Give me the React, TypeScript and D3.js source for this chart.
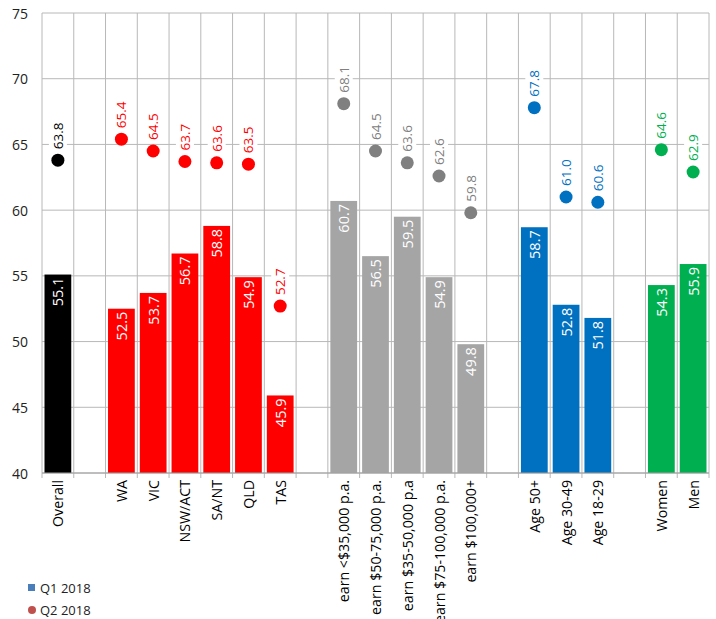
import React, { useEffect, useRef } from "react";
import * as d3 from "d3";

// Category slots along the x axis; empty strings are spacer slots between groups.
const categories = [
  "Overall", "",
  "WA", "VIC", "NSW/ACT", "SA/NT", "QLD", "TAS", "",
  "earn <$35,000 p.a.", "earn $50-75,000 p.a.", "earn $35-50,000 p.a", "earn $75-100,000 p.a.", "earn $100,000+", "",
  "Age 50+", "Age 30-49", "Age 18-29", "",
  "Women", "Men",
];

// Q1 2018 values (bars), null in spacer slots
const q1Values: (number | null)[] = [
  55.1, null,
  52.5, 53.7, 56.7, 58.8, 54.9, 45.9, null,
  60.7, 56.5, 59.5, 54.9, 49.8, null,
  58.7, 52.8, 51.8, null,
  54.3, 55.9,
];

// Q2 2018 values (dots)
const q2Values: (number | null)[] = [
  63.8, null,
  65.4, 64.5, 63.7, 63.6, 63.5, 52.7, null,
  68.1, 64.5, 63.6, 62.6, 59.8, null,
  67.8, 61.0, 60.6, null,
  64.6, 62.9,
];

// Group of each slot, used for colouring
const groups = [
  "overall", "",
  "state", "state", "state", "state", "state", "state", "",
  "income", "income", "income", "income", "income", "",
  "age", "age", "age", "",
  "gender", "gender",
];

const barColors: Record<string, string> = {
  overall: "#000000",
  state: "#ff0000",
  income: "#a5a5a5",
  age: "#0070c0",
  gender: "#00b050",
};
const dotColors: Record<string, string> = {
  overall: "#000000",
  state: "#ff0000",
  income: "#808080",
  age: "#0070c0",
  gender: "#00b050",
};

const yTicks = [40, 45, 50, 55, 60, 65, 70, 75];
const legendItems = ["Q1 2018", "Q2 2018"];

const W = 716;
const H = 619;
const FONT = "'Open Sans', sans-serif";

export default function App() {
  const ref = useRef<SVGSVGElement>(null);

  useEffect(() => {
    const svg = d3.select(ref.current);
    svg.selectAll("*").remove();

    const left = 42;
    const right = 709;
    const top = 13;
    const bottom = 473;

    const slots = categories.map((_, i) => String(i));
    const x = d3.scaleBand<string>().domain(slots).range([left, right]).padding(0);
    const y = d3.scaleLinear().domain([40, 75]).range([bottom, top]);
    const bw = x.bandwidth();
    const inset = 2.5;

    const grid = svg.append("g");
    // horizontal gridlines
    grid
      .selectAll("line.h")
      .data(yTicks)
      .join("line")
      .attr("x1", left)
      .attr("x2", right)
      .attr("y1", (d) => y(d))
      .attr("y2", (d) => y(d))
      .attr("stroke", "#b8b8b8")
      .attr("stroke-width", 1);
    // vertical gridlines at slot boundaries
    const bounds = d3.range(categories.length + 1).map((i) => left + i * bw);
    grid
      .selectAll("line.v")
      .data(bounds)
      .join("line")
      .attr("x1", (d) => d)
      .attr("x2", (d) => d)
      .attr("y1", top)
      .attr("y2", bottom + 5)
      .attr("stroke", "#b8b8b8")
      .attr("stroke-width", 1);

    // y tick labels
    svg
      .append("g")
      .selectAll("text")
      .data(yTicks)
      .join("text")
      .attr("x", 28)
      .attr("y", (d) => y(d))
      .attr("text-anchor", "end")
      .attr("dominant-baseline", "central")
      .attr("font-family", FONT)
      .attr("font-size", 14)
      .attr("fill", "#222")
      .text((d) => d);

    // bars
    const barData = categories
      .map((c, i) => ({ c, i, v: q1Values[i], g: groups[i] }))
      .filter((d) => d.v !== null) as { c: string; i: number; v: number; g: string }[];

    svg
      .append("g")
      .selectAll("rect")
      .data(barData)
      .join("rect")
      .attr("x", (d) => (x(String(d.i)) as number) + inset)
      .attr("width", bw - 2 * inset)
      .attr("y", (d) => y(d.v))
      .attr("height", (d) => bottom - y(d.v))
      .attr("fill", (d) => barColors[d.g]);

    // bar value labels (inside end)
    svg
      .append("g")
      .selectAll("text")
      .data(barData)
      .join("text")
      .attr("transform", (d) => {
        const cx = (x(String(d.i)) as number) + bw / 2;
        return `translate(${cx},${y(d.v) + 3}) rotate(-90)`;
      })
      .attr("text-anchor", "end")
      .attr("dominant-baseline", "central")
      .attr("font-family", FONT)
      .attr("font-size", 14.5)
      .attr("fill", "#ffffff")
      .text((d) => d.v.toFixed(1));

    // x axis line
    svg
      .append("line")
      .attr("x1", left)
      .attr("x2", right)
      .attr("y1", bottom)
      .attr("y2", bottom)
      .attr("stroke", "#a0a0a0")
      .attr("stroke-width", 1);

    // dots
    const dotData = categories
      .map((c, i) => ({ c, i, v: q2Values[i], g: groups[i] }))
      .filter((d) => d.v !== null) as { c: string; i: number; v: number; g: string }[];

    svg
      .append("g")
      .selectAll("circle")
      .data(dotData)
      .join("circle")
      .attr("cx", (d) => (x(String(d.i)) as number) + bw / 2)
      .attr("cy", (d) => y(d.v))
      .attr("r", 6.5)
      .attr("fill", (d) => dotColors[d.g]);

    // dot value labels with white backing
    const dl = svg
      .append("g")
      .selectAll("g")
      .data(dotData)
      .join("g")
      .attr("transform", (d) => {
        const cx = (x(String(d.i)) as number) + bw / 2;
        return `translate(${cx},${y(d.v) - 11}) rotate(-90)`;
      });
    const dlText = dl
      .append("text")
      .attr("text-anchor", "start")
      .attr("dominant-baseline", "central")
      .attr("font-family", FONT)
      .attr("font-size", 13.5)
      .attr("fill", (d) => dotColors[d.g])
      .text((d) => d.v.toFixed(1));
    dlText.each(function () {
      const t = this as SVGTextElement;
      const bb = t.getBBox();
      d3.select(t.parentNode as SVGGElement)
        .insert("rect", "text")
        .attr("x", bb.x - 2)
        .attr("y", bb.y)
        .attr("width", bb.width + 4)
        .attr("height", bb.height)
        .attr("fill", "#ffffff");
    });

    // category labels
    svg
      .append("g")
      .selectAll("text")
      .data(categories.map((c, i) => ({ c, i })).filter((d) => d.c !== ""))
      .join("text")
      .attr("transform", (d) => {
        const cx = (x(String(d.i)) as number) + bw / 2;
        return `translate(${cx},${bottom + 7}) rotate(-90)`;
      })
      .attr("text-anchor", "end")
      .attr("dominant-baseline", "central")
      .attr("font-family", FONT)
      .attr("font-size", 14.2)
      .attr("fill", "#000")
      .text((d) => d.c);

    // legend
    const lg = svg.append("g");
    lg.append("rect")
      .attr("x", 28)
      .attr("y", 584)
      .attr("width", 7)
      .attr("height", 7)
      .attr("fill", "#4a7ebb");
    lg.append("circle").attr("cx", 32).attr("cy", 610).attr("r", 4).attr("fill", "#c0504d");
    lg.selectAll("text")
      .data(legendItems)
      .join("text")
      .attr("x", 40)
      .attr("y", (_, i) => 588 + i * 22)
      .attr("dominant-baseline", "central")
      .attr("font-family", FONT)
      .attr("font-size", 13)
      .attr("fill", "#222")
      .text((d) => d);
  }, []);

  return (
    <svg
      ref={ref}
      width={W}
      height={H}
      style={{ position: "absolute", left: 0, top: 0, background: "#fff" }}
    />
  );
}
